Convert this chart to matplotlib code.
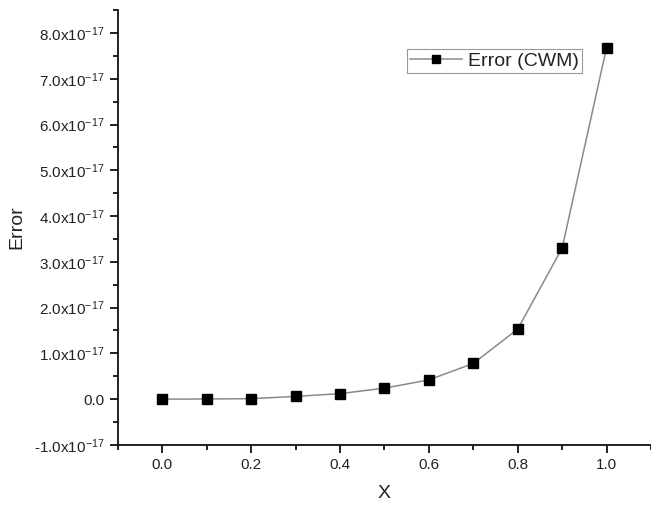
import matplotlib.pyplot as plt
from matplotlib.ticker import FuncFormatter, FixedLocator

plt.rcParams['font.family'] = ['Liberation Sans', 'DejaVu Sans']
plt.rcParams['mathtext.fontset'] = 'custom'
plt.rcParams['mathtext.rm'] = 'Liberation Sans'
plt.rcParams['mathtext.it'] = 'Liberation Sans'

# datos del error
x_vals = [0.0, 0.1, 0.2, 0.3, 0.4, 0.5, 0.6, 0.7, 0.8, 0.9, 1.0]
error_vals = [0.0, 0.003, 0.01, 0.06, 0.12, 0.24, 0.42, 0.78, 1.53, 3.30, 7.68]  # x1e-17
escala = 1e-17
error = [v * escala for v in error_vals]

x_ticks = [0.0, 0.2, 0.4, 0.6, 0.8, 1.0]
x_minor = [-0.1, 0.1, 0.3, 0.5, 0.7, 0.9, 1.1]
y_ticks = [-1.0, 0.0, 1.0, 2.0, 3.0, 4.0, 5.0, 6.0, 7.0, 8.0]
y_minor = [-0.5, 0.5, 1.5, 2.5, 3.5, 4.5, 5.5, 6.5, 7.5, 8.5]

color_linea = '#8a8a8a'
color_texto = '#222222'


def fmt_y(v, pos):
    m = v / escala
    if abs(m) < 1e-9:
        return '0.0'
    return '%.1fx10$^{\\mathregular{-17}}$' % m


fig = plt.figure(figsize=(6.51, 5.05), dpi=100)
ax = fig.add_axes([0.181, 0.119, 0.819, 0.861])

ax.plot(x_vals, error, color=color_linea, lw=1.1, marker='s', ms=6.5,
        mfc='black', mec='black', label='Error (CWM)')

ax.set_xlim(-0.1, 1.1)
ax.set_ylim(-1.0e-17, 8.5e-17)

ax.xaxis.set_major_locator(FixedLocator(x_ticks))
ax.xaxis.set_minor_locator(FixedLocator(x_minor))
ax.yaxis.set_major_locator(FixedLocator([v * escala for v in y_ticks]))
ax.yaxis.set_minor_locator(FixedLocator([v * escala for v in y_minor]))
ax.xaxis.set_major_formatter(FuncFormatter(lambda v, p: '%.1f' % v))
ax.yaxis.set_major_formatter(FuncFormatter(fmt_y))

for lado in ['top', 'right']:
    ax.spines[lado].set_visible(False)
for lado in ['left', 'bottom']:
    ax.spines[lado].set_linewidth(1.3)
    ax.spines[lado].set_color('#111111')

ax.tick_params(which='major', direction='out', length=6, width=1.3,
               labelsize=11, labelcolor=color_texto, color='#111111')
ax.tick_params(which='minor', direction='out', length=3.5, width=1.3,
               color='#111111')

ax.set_xlabel('X', fontsize=14, color=color_texto, labelpad=9)
ax.set_ylabel('Error', fontsize=14, color=color_texto, labelpad=6)

leg = ax.legend(loc='upper right', bbox_to_anchor=(0.87, 0.91), fontsize=14,
                fancybox=False, framealpha=1, edgecolor='#999999',
                handlelength=2.7, borderpad=0.15, handletextpad=0.3,
                borderaxespad=0, markerscale=0.8)
leg.get_frame().set_linewidth(0.8)
for t in leg.get_texts():
    t.set_color(color_texto)

fig.savefig('out.png', dpi=100)
